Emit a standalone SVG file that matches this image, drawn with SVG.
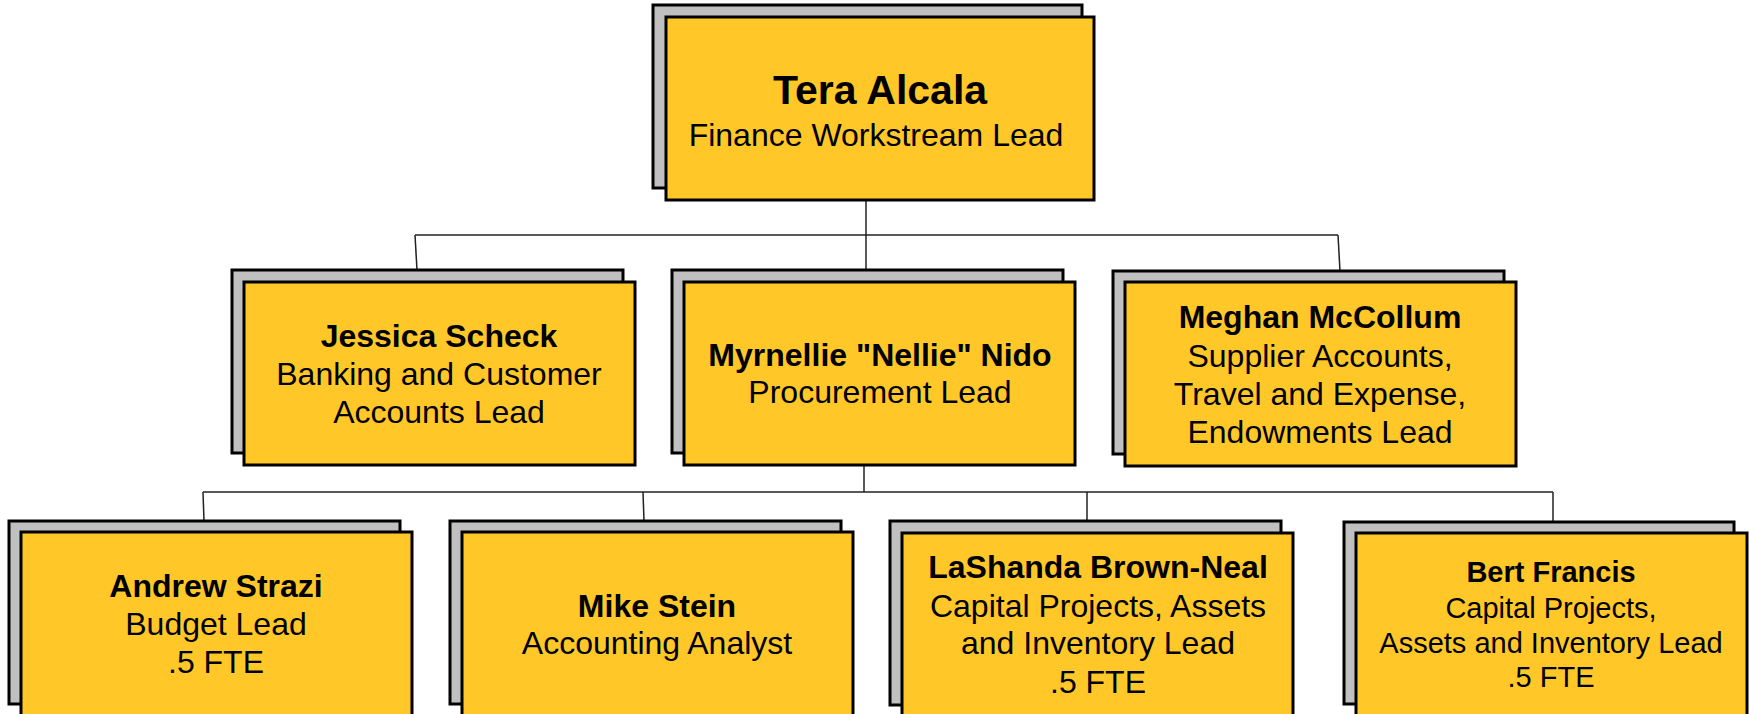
<svg xmlns="http://www.w3.org/2000/svg" width="1750" height="714" viewBox="0 0 1750 714">
<style>
.sh{fill:#C0C0C0;stroke:#000;stroke-width:3}
.bx{fill:#FFC828;stroke:#000;stroke-width:3}
.c{fill:none;stroke:#222;stroke-width:1.5}
text{font-family:"Liberation Sans",Arial,sans-serif;fill:#000;text-anchor:middle}
.n{font-weight:bold;font-size:32px}
.r{font-size:32px}
.ns{font-weight:bold;font-size:29px}
.rs{font-size:29px}
</style>
<rect width="1750" height="714" fill="#fff"/>
<g id="connectors">
<path class="c" d="M866,200 V270"/>
<path class="c" d="M415,235 H1338"/>
<path class="c" d="M415,235 L417,270"/>
<path class="c" d="M1338,235 L1340,271"/>
<path class="c" d="M864,465 V492"/>
<path class="c" d="M203,492 H1553"/>
<path class="c" d="M203,492 L204,521"/>
<path class="c" d="M643,492 L644,521"/>
<path class="c" d="M1087,492 L1087,521"/>
<path class="c" d="M1553,492 V522"/>
</g>
<g id="tera">
<rect class="sh" x="653" y="5" width="429" height="183"/>
<rect class="bx" x="666" y="17" width="428" height="183"/>
<text x="880" y="104" style="font-weight:bold;font-size:41px">Tera Alcala</text>
<text x="876" y="146" class="r">Finance Workstream Lead</text>
</g>
<g id="jessica">
<rect class="sh" x="232" y="270" width="391" height="183"/>
<rect class="bx" x="244" y="282" width="391" height="183"/>
<text x="439" y="347" class="n">Jessica Scheck</text>
<text x="439" y="385" class="r">Banking and Customer</text>
<text x="439" y="423" class="r">Accounts Lead</text>
</g>
<g id="myrnellie">
<rect class="sh" x="672" y="270" width="391" height="183"/>
<rect class="bx" x="684" y="282" width="391" height="183"/>
<text x="880" y="366" class="n">Myrnellie "Nellie" Nido</text>
<text x="880" y="403" class="r">Procurement Lead</text>
</g>
<g id="meghan">
<rect class="sh" x="1113" y="271" width="391" height="183"/>
<rect class="bx" x="1125" y="282" width="391" height="184"/>
<text x="1320" y="328" class="n">Meghan McCollum</text>
<text x="1320" y="367" class="r">Supplier Accounts,</text>
<text x="1320" y="405" class="r">Travel and Expense,</text>
<text x="1320" y="443" class="r">Endowments Lead</text>
</g>
<g id="andrew">
<rect class="sh" x="9" y="521" width="391" height="183"/>
<rect class="bx" x="21" y="532" width="391" height="200"/>
<text x="216" y="597" class="n">Andrew Strazi</text>
<text x="216" y="635" class="r">Budget Lead</text>
<text x="216" y="673" class="r">.5 FTE</text>
</g>
<g id="mike">
<rect class="sh" x="450" y="521" width="391" height="183"/>
<rect class="bx" x="462" y="532" width="391" height="200"/>
<text x="657" y="617" class="n">Mike Stein</text>
<text x="657" y="654" class="r">Accounting Analyst</text>
</g>
<g id="lashanda">
<rect class="sh" x="890" y="521" width="391" height="184"/>
<rect class="bx" x="902" y="533" width="391" height="200"/>
<text x="1098" y="578" class="n">LaShanda Brown-Neal</text>
<text x="1098" y="617" class="r">Capital Projects, Assets</text>
<text x="1098" y="654" class="r">and Inventory Lead</text>
<text x="1098" y="693" class="r">.5 FTE</text>
</g>
<g id="bert">
<rect class="sh" x="1344" y="522" width="390" height="182"/>
<rect class="bx" x="1356" y="533" width="391" height="200"/>
<text x="1551" y="582" class="ns">Bert Francis</text>
<text x="1551" y="618" class="rs">Capital Projects,</text>
<text x="1551" y="653" class="rs">Assets and Inventory Lead</text>
<text x="1551" y="687" class="rs">.5 FTE</text>
</g>
</svg>
